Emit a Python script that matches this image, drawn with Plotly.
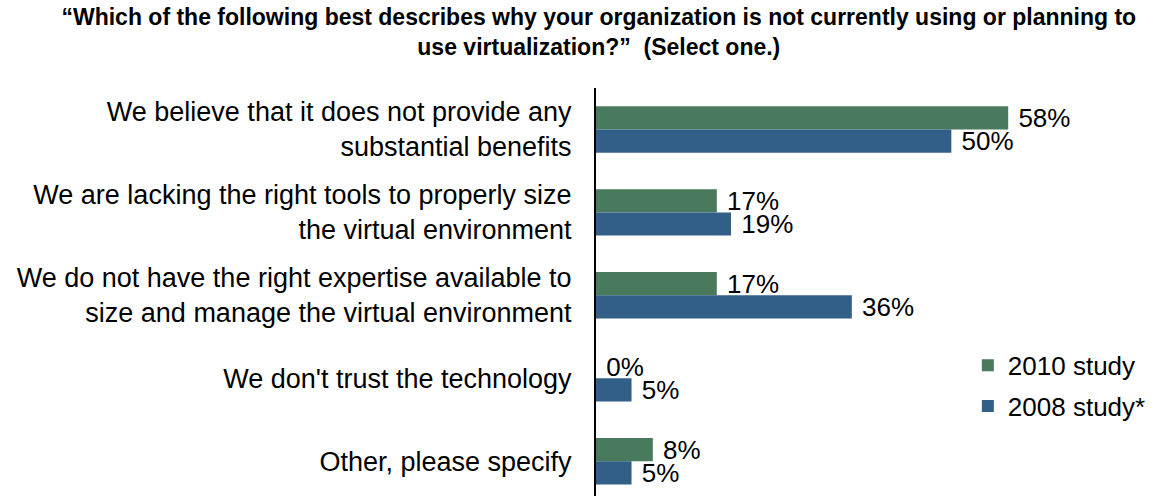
import plotly.graph_objects as go

categories = [
    "We believe that it does not provide any<br>substantial benefits",
    "We are lacking the right tools to properly size<br>the virtual environment",
    "We do not have the right expertise available to<br>size and manage the virtual environment",
    "We don't trust the technology",
    "Other, please specify",
]
study_2010 = [58, 17, 17, 0, 8]
study_2008 = [50, 19, 36, 5, 5]
series_names = ["2010 study", "2008 study*"]
series_colors = ["#4a7a5e", "#325f88"]

FONT = "Liberation Sans, Arial, sans-serif"

fig = go.Figure()
for name, vals, color in zip(series_names, [study_2010, study_2008], series_colors):
    fig.add_trace(go.Bar(
        y=categories,
        x=vals,
        name=name,
        legendgroup=name,
        orientation="h",
        marker=dict(color=color, line=dict(width=0)),
        text=[f"\u00a0{v}%" for v in vals],
        textposition="outside",
        constraintext="none",
        textfont=dict(family=FONT, size=26, color="#000000"),
        cliponaxis=False,
    ))

fig.update_layout(
    width=1156,
    height=496,
    margin=dict(l=596, r=0, t=88, b=0),
    paper_bgcolor="white",
    plot_bgcolor="white",
    barmode="group",
    bargap=0.44,
    bargroupgap=0.0,
    title=dict(
        text="<b>“Which of the following best describes why your organization is not currently using or planning to<br>use virtualization?”  (Select one.)</b>",
        x=0.518,
        xanchor="center",
        yref="container",
        y=0.95,
        yanchor="middle",
        font=dict(family=FONT, size=23, color="#000000"),
    ),
    xaxis=dict(
        range=[0, 78.8],
        visible=False,
        showgrid=False,
        zeroline=False,
    ),
    yaxis=dict(
        range=[4.42, -0.5],
        showline=True,
        linecolor="#000000",
        linewidth=2,
        showgrid=False,
        zeroline=False,
        ticks="",
        ticklabelstandoff=17,
        tickfont=dict(family=FONT, size=27, color="#000000"),
    ),
    legend=dict(
        x=0.664,
        y=0.378,
        xanchor="left",
        yanchor="top",
        font=dict(family=FONT, size=26, color="#000000"),
        itemwidth=30,
        traceorder="grouped",
        tracegroupgap=4,
        bgcolor="rgba(0,0,0,0)",
    ),
    showlegend=True,
)

fig.write_html("out.html")
